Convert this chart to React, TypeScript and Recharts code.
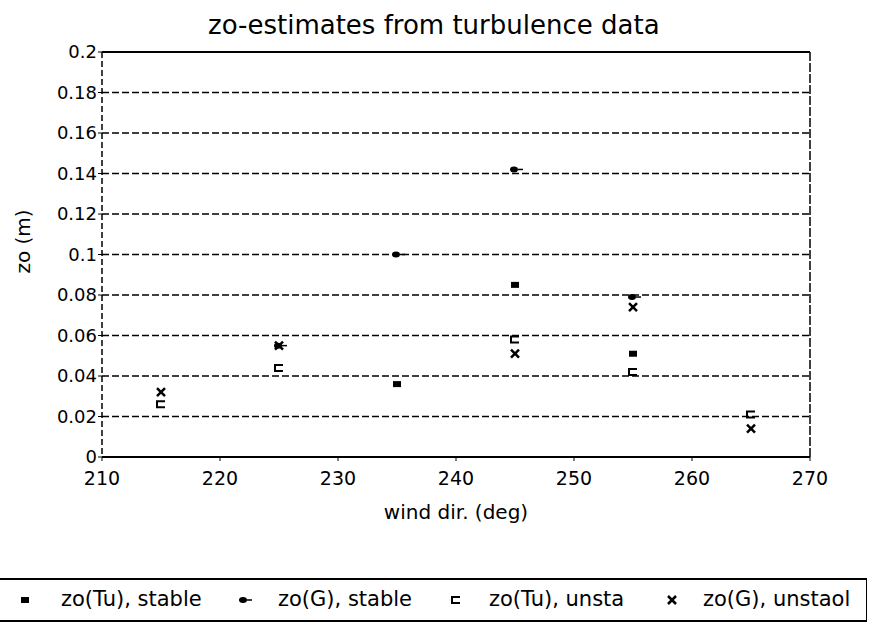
import React from 'react'
import { CartesianGrid, ReferenceLine, Scatter, ScatterChart, XAxis, YAxis } from 'recharts'

const FONT = '"DejaVu Sans", sans-serif'

const windDir = [215, 225, 235, 245, 255, 265]
const zoTuStable = [null, null, 0.036, 0.085, 0.051, null]
const zoGStable = [null, 0.055, 0.1, 0.142, 0.079, null]
const zoTuUnsta = [0.026, 0.044, null, 0.058, 0.042, 0.021]
const zoGUnsta = [0.032, 0.055, null, 0.051, 0.074, 0.014]

const xTicks = [210, 220, 230, 240, 250, 260, 270]
const yTicks = [0, 0.02, 0.04, 0.06, 0.08, 0.1, 0.12, 0.14, 0.16, 0.18, 0.2]

const toPoints = (vals: (number | null)[]) =>
  windDir.map((d, i) => ({ dir: d, zo: vals[i] })).filter(p => p.zo !== null)

// marker shapes, roughly like the scanned plot symbols
const SquareMark = (p: any) => <rect x={p.cx - 4} y={p.cy - 3} width={8} height={6} fill="#000" />
const ArrowMark = (p: any) => (
  <g>
    <ellipse cx={p.cx - 1} cy={p.cy} rx={4} ry={3} fill="#000" />
    <line x1={p.cx + 3} y1={p.cy} x2={p.cx + 8} y2={p.cy} stroke="#000" strokeWidth={1.5} />
  </g>
)
const BracketMark = (p: any) => (
  <path d={`M${p.cx + 4},${p.cy - 3} H${p.cx - 4} V${p.cy + 3} H${p.cx + 4}`} fill="none" stroke="#000" strokeWidth={2} />
)
const CrossMark = (p: any) => (
  <path d={`M${p.cx - 4},${p.cy - 4} L${p.cx + 4},${p.cy + 4} M${p.cx + 4},${p.cy - 4} L${p.cx - 4},${p.cy + 4}`} stroke="#000" strokeWidth={2.5} />
)

const legendItems = [
  { name: 'zo(Tu), stable', Mark: SquareMark, markX: 25, textX: 61 },
  { name: 'zo(G), stable', Mark: ArrowMark, markX: 244, textX: 278 },
  { name: 'zo(Tu), unsta', Mark: BracketMark, markX: 456, textX: 489 },
  { name: 'zo(G), unstaol', Mark: CrossMark, markX: 672, textX: 703 },
]

const App = () => {
  return (
    <div style={{ position: 'absolute', left: 0, top: 0, width: 869, height: 623, background: '#fff', fontFamily: FONT }}>
      <div style={{ position: 'absolute', left: 208, top: 10, fontSize: 26, whiteSpace: 'nowrap' }}>
        zo-estimates from turbulence data
      </div>
      <ScatterChart width={869} height={623} margin={{ top: 52, right: 59, left: 0, bottom: 104 }}>
        <CartesianGrid vertical={false} stroke="#000" strokeWidth={1.5} strokeDasharray="7 3" />
        <XAxis
          type="number"
          dataKey="dir"
          domain={[210, 270]}
          ticks={xTicks}
          height={62}
          axisLine={{ stroke: '#000', strokeWidth: 2 }}
          tickLine={{ stroke: '#000' }}
          tickSize={4}
          tickMargin={11}
          tick={{ fill: '#000', fontSize: 19, fontFamily: FONT }}
          label={{ value: 'wind dir. (deg)', position: 'insideBottom', offset: 0, fill: '#000', fontSize: 20, fontFamily: FONT }}
        />
        <YAxis
          type="number"
          dataKey="zo"
          domain={[0, 0.2]}
          ticks={yTicks}
          width={102}
          axisLine={{ stroke: '#000', strokeWidth: 1.5, strokeDasharray: '6 3' }}
          tickLine={{ stroke: '#000' }}
          tickSize={4}
          tickMargin={1}
          tickFormatter={(v: number) => String(+v.toFixed(2))}
          tick={{ fill: '#000', fontSize: 18, fontFamily: FONT }}
          label={{ value: 'zo (m)', angle: -90, position: 'center', dx: -28, dy: -13, fill: '#000', fontSize: 20, fontFamily: FONT }}
        />
        <ReferenceLine y={0.2} stroke="#000" strokeWidth={2} />
        <ReferenceLine x={270} stroke="#000" strokeWidth={1.5} strokeDasharray="9 2" />
        <Scatter name="zo(Tu), stable" data={toPoints(zoTuStable)} shape={SquareMark} isAnimationActive={false} />
        <Scatter name="zo(G), stable" data={toPoints(zoGStable)} shape={ArrowMark} isAnimationActive={false} />
        <Scatter name="zo(Tu), unsta" data={toPoints(zoTuUnsta)} shape={BracketMark} isAnimationActive={false} />
        <Scatter name="zo(G), unstaol" data={toPoints(zoGUnsta)} shape={CrossMark} isAnimationActive={false} />
      </ScatterChart>
      <div style={{ position: 'absolute', left: 0, top: 578, width: 866, height: 40, borderTop: '2px solid #000', borderBottom: '2px solid #000', borderRight: '1px solid #000' }}>
        {legendItems.map(({ name, Mark, markX, textX }) => (
          <React.Fragment key={name}>
            <svg width={20} height={20} style={{ position: 'absolute', left: markX - 10, top: 10 }}>
              <Mark cx={10} cy={10} />
            </svg>
            <span style={{ position: 'absolute', left: textX, top: 7, fontSize: 21, whiteSpace: 'nowrap' }}>{name}</span>
          </React.Fragment>
        ))}
      </div>
    </div>
  )
}

export default App
